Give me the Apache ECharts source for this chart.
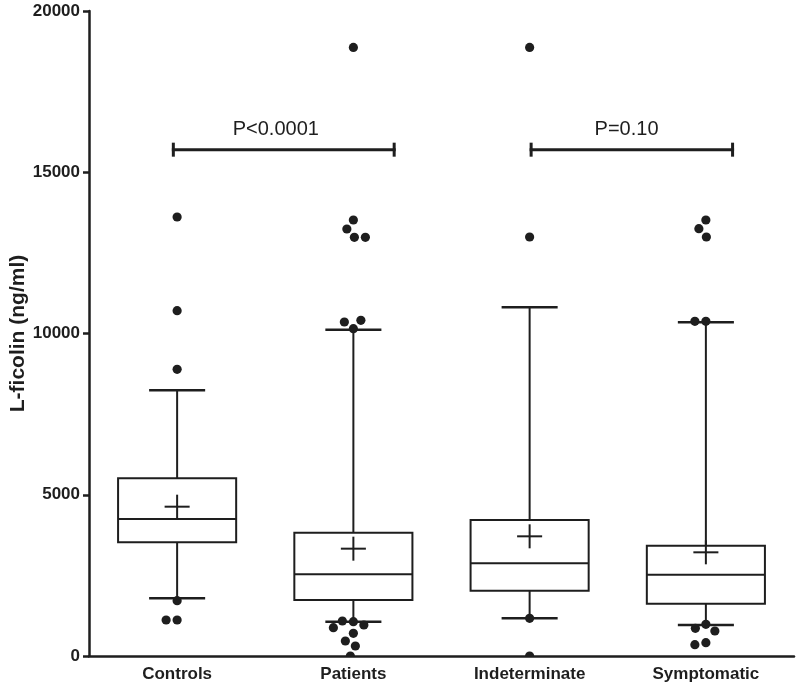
<!DOCTYPE html>
<html>
<head>
<meta charset="utf-8">
<script src="https://cdn.jsdelivr.net/npm/echarts@6/dist/echarts.min.js"></script>
<style>html,body{margin:0;padding:0;background:#fff}#c{width:799px;height:688px}</style>
</head>
<body>
<div id="c"></div>
<script>
const categories = ['Controls', 'Patients', 'Indeterminate', 'Symptomatic'];
const whiskerLow = [1790, 1064, 1168, 961];
const q1 = [3525, 1736, 2025, 1622];
const median = [4248, 2532, 2874, 2521];
const q3 = [5510, 3824, 4217, 3421];
const whiskerHigh = [8239, 10118, 10812, 10347];
const mean = [4630, 3328, 3711, 3215];

const controlsOutliers = [13612, 10707, 8890, 1715, 1116, 1116];
const patientsOutliers = [18870, 13519, 13240, 12983, 12983, 10149, 10357, 10409, 1064, 1085, 961, 878, 703, 465, 310, 0];
const indeterminateOutliers = [18870, 12992, 1168, 0];
const symptomaticOutliers = [13519, 13250, 12992, 10378, 10378, 982, 859, 775, 413, 351];

const yTicks = [0, 5000, 10000, 15000, 20000];

const bracketLabels = ['P<0.0001', 'P=0.10'];
const bracketStart = [-0.03, 2.0];
const bracketEnd = [1.24, 3.16];
const bracketY = [15700, 15700];
const labelX = [0.56, 2.55];
const labelY = [16340, 16340];

const INK = '#1e1e1e';
const FONT = '"Liberation Sans", Arial, Helvetica, sans-serif';

const boxData = categories.map((c, i) => [i, whiskerLow[i], q1[i], median[i], q3[i], whiskerHigh[i], mean[i]]);
const outlierGroups = [controlsOutliers, patientsOutliers, indeterminateOutliers, symptomaticOutliers];
const outlierData = [];
outlierGroups.forEach((arr, i) => arr.forEach(v => outlierData.push([i, v])));
const bracketData = bracketLabels.map((l, i) => [bracketStart[i], bracketEnd[i], bracketY[i], labelX[i], labelY[i]]);

const MIN_DIST = 11;
let swarmCache = null;
function swarm(api) {
  if (swarmCache) return swarmCache;
  const offs = [];
  const placed = {};
  outlierData.forEach((d, k) => {
    const p = api.coord([d[0], d[1]]);
    const list = placed[d[0]] || (placed[d[0]] = []);
    let best = 0;
    for (let s = 0; s < 80; s += 0.5) {
      const cands = s === 0 ? [0] : [-s, s];
      let found = null;
      for (const c of cands) {
        if (list.every(q => Math.hypot(q.x - c, q.y - p[1]) >= MIN_DIST)) { found = c; break; }
      }
      if (found !== null) { best = found; break; }
    }
    list.push({ x: best, y: p[1] });
    offs[k] = best;
  });
  swarmCache = offs;
  return offs;
}

function lineEl(x1, y1, x2, y2, w) {
  return { type: 'line', shape: { x1, y1, x2, y2 }, style: { stroke: INK, lineWidth: w } };
}

const chart = echarts.init(document.getElementById('c'), null, { renderer: 'canvas' });
chart.setOption({
  animation: false,
  backgroundColor: '#fff',
  grid: { left: 89, right: 5, top: 11, bottom: 32, containLabel: false, outerBoundsMode: 'none' },
  xAxis: [{
    type: 'category',
    data: categories,
    boundaryGap: true,
    axisLine: { onZero: false, lineStyle: { color: INK, width: 2.5 } },
    axisTick: { alignWithLabel: true, length: 7, lineStyle: { color: INK, width: 2.5 } },
    axisLabel: { color: INK, fontSize: 17, fontWeight: 'bold', fontFamily: FONT, margin: 10, interval: 0 },
    splitLine: { show: false }
  }, {
    type: 'value', min: -0.5, max: 3.5, show: false
  }],
  yAxis: {
    type: 'value',
    min: 0, max: 20000, interval: 5000,
    name: 'L-ficolin (ng/ml)',
    nameLocation: 'middle',
    nameGap: 60,
    nameMoveOverlap: false,
    nameTextStyle: { color: INK, fontSize: 21, fontWeight: 'bold', fontFamily: FONT },
    axisLine: { show: true, onZero: false, lineStyle: { color: INK, width: 2.5 } },
    axisTick: { show: true, length: 6, lineStyle: { color: INK, width: 2.5 } },
    axisLabel: { color: INK, fontSize: 17, fontWeight: 'bold', fontFamily: FONT, margin: 9,
      formatter: v => yTicks.indexOf(v) >= 0 ? String(v) : '' },
    splitLine: { show: false }
  },
  series: [{
    type: 'custom',
    xAxisIndex: 0,
    data: boxData,
    renderItem: (params, api) => {
      const i = api.value(0);
      const bw = api.size([1, 0])[0];
      const x = api.coord([i, 0])[0];
      const yLow = api.coord([i, api.value(1)])[1];
      const yQ1 = api.coord([i, api.value(2)])[1];
      const yMed = api.coord([i, api.value(3)])[1];
      const yQ3 = api.coord([i, api.value(4)])[1];
      const yHigh = api.coord([i, api.value(5)])[1];
      const yMean = api.coord([i, api.value(6)])[1];
      const hb = bw * 0.335, hc = bw * 0.159, hm = bw * 0.071;
      return {
        type: 'group',
        children: [
          { type: 'rect', shape: { x: x - hb, y: yQ3, width: 2 * hb, height: yQ1 - yQ3 }, style: { fill: 'none', stroke: INK, lineWidth: 2 } },
          lineEl(x - hb, yMed, x + hb, yMed, 2),
          lineEl(x, yQ3, x, yHigh, 2),
          lineEl(x, yQ1, x, yLow, 2),
          lineEl(x - hc, yHigh, x + hc, yHigh, 2.5),
          lineEl(x - hc, yLow, x + hc, yLow, 2.5),
          lineEl(x - hm, yMean, x + hm, yMean, 2),
          lineEl(x, yMean - 12, x, yMean + 12, 2)
        ]
      };
    },
    z: 2
  }, {
    type: 'custom',
    xAxisIndex: 0,
    data: outlierData,
    clip: true,
    renderItem: (params, api) => {
      const offs = swarm(api);
      const p = api.coord([api.value(0), api.value(1)]);
      return { type: 'circle', shape: { cx: p[0] + offs[params.dataIndex], cy: p[1], r: 4.6 }, style: { fill: INK } };
    },
    z: 3
  }, {
    type: 'custom',
    xAxisIndex: 1,
    data: bracketData,
    renderItem: (params, api) => {
      const a = api.coord([api.value(0), api.value(2)]);
      const b = api.coord([api.value(1), api.value(2)]);
      const t = api.coord([api.value(3), api.value(4)]);
      return {
        type: 'group',
        children: [
          lineEl(a[0], a[1], b[0], b[1], 3),
          lineEl(a[0] + 1.5, a[1] - 7, a[0] + 1.5, a[1] + 7, 3),
          lineEl(b[0] - 1.5, b[1] - 7, b[0] - 1.5, b[1] + 7, 3),
          { type: 'text', x: t[0], y: t[1], style: { text: bracketLabels[params.dataIndex], fill: INK, fontSize: 20, fontFamily: FONT, align: 'center', verticalAlign: 'middle' } }
        ]
      };
    },
    z: 4
  }]
});
</script>
</body>
</html>
